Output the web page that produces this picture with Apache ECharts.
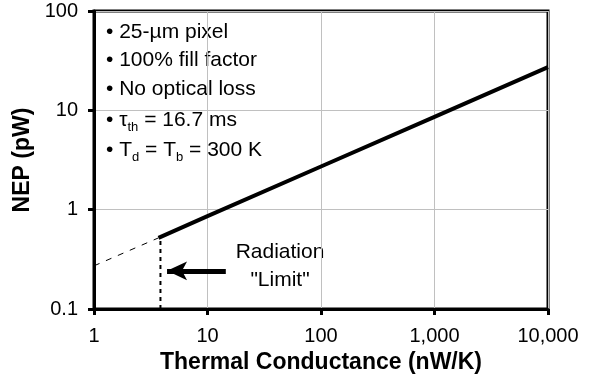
<!DOCTYPE html>
<html>
<head>
<meta charset="utf-8">
<script src="https://cdn.jsdelivr.net/npm/echarts@6/dist/echarts.min.js"></script>
<style>
  html, body { margin: 0; padding: 0; background: #fff; }
  #chart { width: 595px; height: 387px; }
</style>
</head>
<body>
<div id="chart"></div>
<script>
  // 热导 (nW/K) 与 NEP (pW)
  var gSolid = [3.7, 10, 100, 1000, 10000];
  var nepSolid = [0.52, 0.86, 2.72, 8.6, 27.2];
  var gDashed = [1, 3.7];
  var nepDashed = [0.272, 0.52];
  var gLimit = [3.85, 3.85];
  var nepLimit = [0.1, 0.51];
  var arrowFrom = [14.5, 0.242];
  var arrowTo = [4.4, 0.242];
  var xTicks = [1, 10, 100, 1000, 10000];
  var yTicks = [0.1, 1, 10, 100];

  var font = 'Liberation Sans, Arial, sans-serif';

  function pairs(xs, ys) {
    return xs.map(function (x, i) { return [x, ys[i]]; });
  }

  var richSub = {
    s: { fontSize: 21, fontFamily: font, lineHeight: 24 },
    sub: { fontSize: 13, fontFamily: font, lineHeight: 24, padding: [14, 0, 0, 0] }
  };

  function note(y, text, rich) {
    return {
      type: 'text', x: 106, y: y,
      style: {
        text: text, font: '21px ' + font, fill: '#000',
        textVerticalAlign: 'middle', rich: rich
      }
    };
  }

  var chart = echarts.init(document.getElementById('chart'));
  var option = {
    animation: false,
    grid: {
      left: 94, right: 47, top: 11, bottom: 78,
      show: true, borderColor: '#000', borderWidth: 3
    },
    xAxis: {
      type: 'log', logBase: 10, min: xTicks[0], max: xTicks[xTicks.length - 1],
      name: 'Thermal Conductance (nW/K)',
      nameLocation: 'middle', nameGap: 41,
      nameTextStyle: { fontFamily: font, fontSize: 23, fontWeight: 'bold', color: '#000' },
      axisLine: { lineStyle: { color: '#000', width: 3 } },
      axisTick: { show: true, length: 6, lineStyle: { color: '#000', width: 3 } },
      axisLabel: {
        fontFamily: font, fontSize: 20, color: '#000', margin: 17,
        formatter: function (v) { return Number(v).toLocaleString('en-US'); }
      },
      splitLine: { show: true, lineStyle: { color: '#c0c0c0', width: 1 } },
      minorTick: { show: false }
    },
    yAxis: {
      type: 'log', logBase: 10, min: yTicks[0], max: yTicks[yTicks.length - 1],
      name: 'NEP (pW)',
      nameLocation: 'middle', nameGap: 56, nameRotate: 90,
      nameTextStyle: { fontFamily: font, fontSize: 23, fontWeight: 'bold', color: '#000' },
      axisLine: { lineStyle: { color: '#000', width: 3 } },
      axisTick: { show: true, length: 6, lineStyle: { color: '#000', width: 3 } },
      axisLabel: {
        fontFamily: font, fontSize: 20, color: '#000', margin: 16,
        formatter: function (v) { return String(Number(v)); }
      },
      splitLine: { show: true, lineStyle: { color: '#c0c0c0', width: 1 } }
    },
    series: [
      {
        type: 'line', data: pairs(gSolid, nepSolid), symbol: 'none',
        lineStyle: { color: '#000', width: 4, cap: 'butt' }, z: 5
      },
      {
        type: 'line', data: pairs(gDashed, nepDashed), symbol: 'none',
        lineStyle: { color: '#000', width: 1, type: [6, 7] }, z: 4
      },
      {
        type: 'line', data: pairs(gLimit, nepLimit), symbol: 'none',
        lineStyle: { color: '#000', width: 2, type: [4, 4] }, z: 4,
        markLine: {
          silent: true, symbol: ['none', 'arrow'], symbolSize: [14, 20],
          label: { show: false },
          lineStyle: { color: '#000', width: 5, type: 'solid' },
          data: [[{ coord: arrowFrom }, { coord: arrowTo }]]
        }
      }
    ],
    graphic: [
      note(32, '• 25-µm pixel'),
      note(60, '• 100% fill factor'),
      note(89, '• No optical loss'),
      note(120, '{s|• τ}{sub|th}{s| = 16.7 ms}', richSub),
      note(150, '{s|• T}{sub|d}{s| = T}{sub|b}{s| = 300 K}', richSub),
      {
        type: 'text', x: 280, y: 266,
        style: {
          text: 'Radiation\n"Limit"', textAlign: 'center', textVerticalAlign: 'middle',
          font: '21px ' + font, fill: '#000', lineHeight: 28
        }
      }
    ]
  };
  chart.setOption(option);
</script>
</body>
</html>
